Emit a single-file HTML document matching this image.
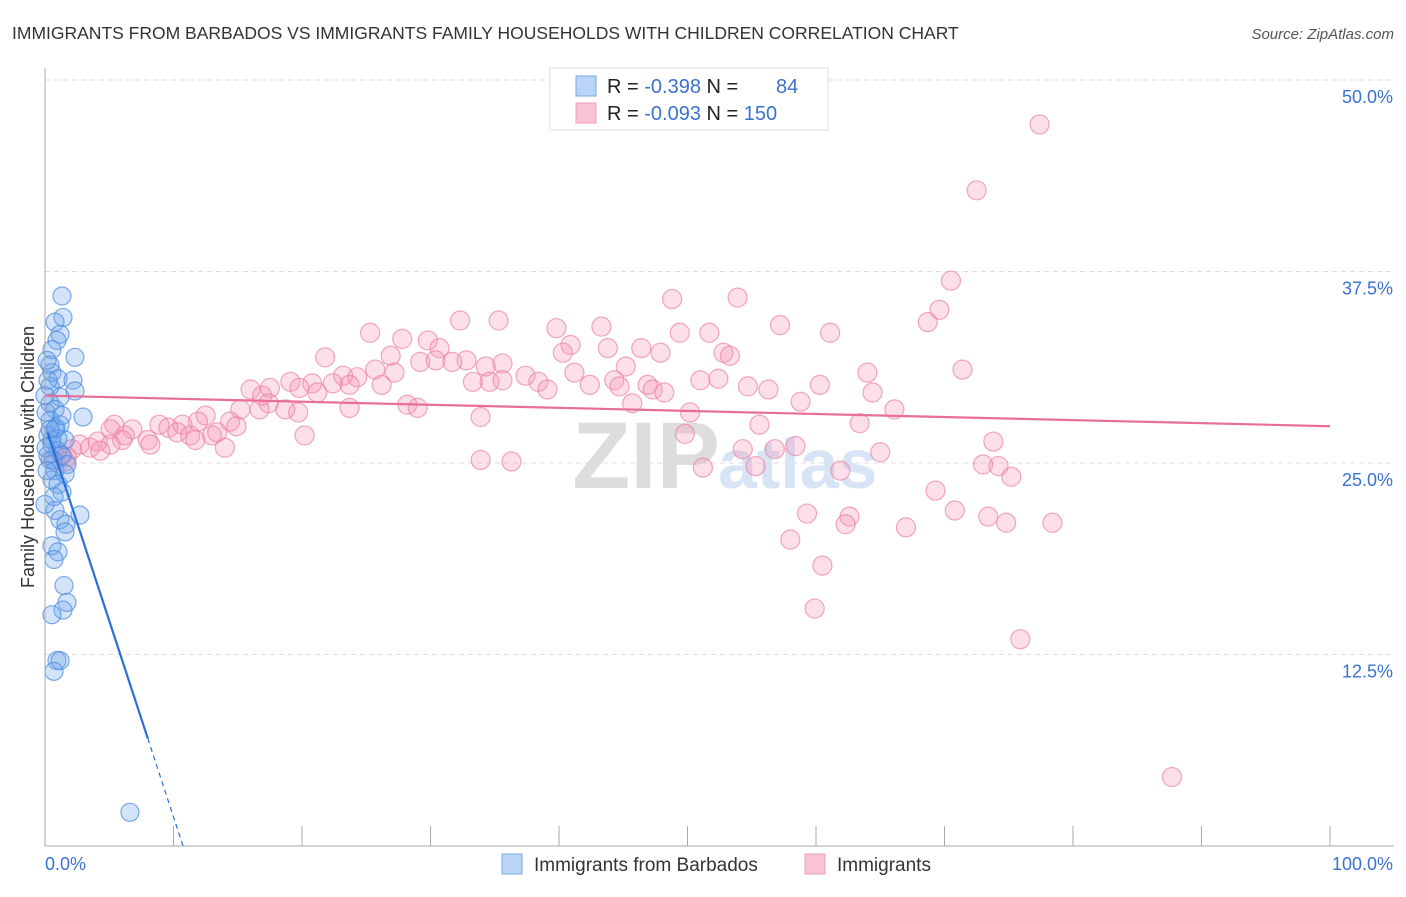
<!DOCTYPE html>
<html><head><meta charset="utf-8"><style>
body{margin:0;background:#fff;font-family:"Liberation Sans",sans-serif;}
svg text{font-family:"Liberation Sans",sans-serif;}
</style></head><body>
<svg id="c" width="1406" height="892" xmlns="http://www.w3.org/2000/svg">
<text x="12" y="39" font-size="17.5" fill="#333">IMMIGRANTS FROM BARBADOS VS IMMIGRANTS FAMILY HOUSEHOLDS WITH CHILDREN CORRELATION CHART</text>
<text x="1394" y="39" font-size="15" fill="#555" text-anchor="end" font-style="italic">Source: ZipAtlas.com</text>
<g id="grid"></g>
<text x="720" y="488" font-size="95" fill="#ddd" text-anchor="end" font-family="Liberation Serif" font-weight="bold">ZIP</text>
<text x="718" y="488" font-size="70" fill="#d6e4f5" font-weight="bold">atlas</text>
<g id="pts"></g>
<g id="lines"></g>
<g id="axes"></g>
<text transform="translate(34,457) rotate(-90)" font-size="18" fill="#333" text-anchor="middle">Family Households with Children</text>
<g>
<rect x="550" y="68" width="278" height="62" fill="#fff" stroke="#ddd"/>
<rect x="576" y="76" width="20" height="20" fill="#b9d4f7" stroke="#7aa8e6"/>
<rect x="576" y="103" width="20" height="20" fill="#f8c3d2" stroke="#ee9fb8"/>
<text x="607" y="93" font-size="20" fill="#222">R = <tspan fill="#3b72d0">-0.398</tspan>   N = <tspan fill="#3b72d0" x="776">84</tspan></text>
<text x="607" y="120" font-size="20" fill="#222">R = <tspan fill="#3b72d0">-0.093</tspan>   N = <tspan fill="#3b72d0">150</tspan></text>
</g>
<g>
<rect x="502" y="854" width="20" height="20" fill="#b9d4f7" stroke="#7aa8e6"/>
<text x="534" y="871" font-size="19" fill="#333">Immigrants from Barbados</text>
<rect x="805" y="854" width="20" height="20" fill="#f8c3d2" stroke="#ee9fb8"/>
<text x="837" y="871" font-size="19" fill="#333">Immigrants</text>
</g>
</svg>
<script>
const yTicks=[12.5,25,37.5,50];
const yTickLabels=["12.5%","25.0%","37.5%","50.0%"];
const xTicks=[0,10,20,30,40,50,60,70,80,90,100];
const blueX=[1.32,1.40,0.78,1.17,0.93,0.54,2.33,0.39,0.54,1.01,2.18,0.39,2.33,1.17,0.39,0.78,2.96,0.39,1.17,0.78,0.23,1.56,0.54,1.01,1.32,0.39,1.71,0.78,1.56,0.54,1.01,1.32,0.70,0.78,2.72,1.17,1.63,1.56,0.54,1.01,0.70,1.48,1.71,1.40,0.54,0.93,1.17,0.70,6.61,0.23,0.54,0.86,0.08,0,0.23,0.16,0.62,1.0,0.08,0.39,1.32,0.16,0];
const blueY=[35.9,34.5,34.2,33.4,33.0,32.4,31.9,31.4,30.9,30.5,30.4,30.0,29.7,29.3,28.9,28.5,28.0,27.8,27.5,27.2,26.8,26.5,26.2,25.8,25.5,25.2,24.9,24.5,24.3,23.9,23.6,23.1,22.8,21.9,21.6,21.3,21.0,20.5,19.6,19.2,18.7,17.0,15.9,15.4,15.1,12.1,12.1,11.4,2.2,25.5,26.5,27.3,28.3,29.4,30.4,31.7,25.2,26.6,26.0,27.2,28.1,24.5,22.3];
const pinkX=[77.4,72.5,70.5,69.6,68.7,71.4,48.8,53.9,57.2,61.1,32.3,35.3,39.8,43.3,49.4,51.7,25.3,27.8,29.8,30.7,32.8,40.9,43.8,46.4,40.3,52.8,53.3,47.9,21.8,26.9,29.2,30.4,31.7,34.3,35.6,45.2,25.7,27.2,64.0,23.2,24.3,37.4,41.2,44.3,51.0,52.4,19.1,20.8,22.4,23.7,26.2,33.3,34.6,35.6,38.4,39.1,42.4,44.7,46.9,47.3,48.2,54.7,56.3,60.3,17.5,16.0,16.9,19.8,21.2,64.4,58.8,17.4,15.2,18.7,19.7,23.7,28.2,29.0,45.7,66.1,16.7,50.2,33.9,12.5,11.9,14.4,14.9,55.6,63.4,8.9,10.7,5.4,5.1,6.8,9.6,10.3,11.3,13.0,13.4,6.2,8.0,20.2,49.8,8.2,4.1,6.0,2.7,3.5,2.1,14.0,58.4,56.8,54.3,73.8,65.0,1.3,1.7,0.8,33.9,36.3,55.3,51.2,73.0,74.2,75.2,61.9,69.3,70.8,73.4,74.8,78.4,59.3,62.6,62.3,67.0,58.0,60.5,59.9,75.9,87.7,5.1,11.7,1.6,4.3];
const pinkY=[47.1,42.8,36.9,35.0,34.2,31.1,35.7,35.8,34.0,33.5,34.3,34.3,33.8,33.9,33.5,33.5,33.5,33.1,33.0,32.5,31.7,32.7,32.5,32.5,32.2,32.2,32.0,32.2,31.9,32.0,31.6,31.7,31.6,31.3,31.5,31.3,31.1,30.9,30.9,30.7,30.6,30.7,30.9,30.4,30.4,30.5,30.3,30.2,30.2,30.1,30.1,30.3,30.3,30.4,30.3,29.8,30.1,30.0,30.1,29.8,29.6,30.0,29.8,30.1,29.9,29.8,29.4,29.9,29.6,29.6,29.0,28.9,28.5,28.5,28.3,28.6,28.8,28.6,28.9,28.5,28.5,28.3,28.0,28.1,27.7,27.7,27.4,27.5,27.6,27.5,27.5,27.5,27.2,27.2,27.3,27.0,26.8,26.8,27.0,26.8,26.5,26.8,26.9,26.2,26.4,26.5,26.2,26.0,25.9,26.0,26.1,25.9,25.9,26.4,25.7,25.5,25.4,25.1,25.2,25.1,24.8,24.7,24.9,24.8,24.1,24.5,23.2,21.9,21.5,21.1,21.1,21.7,21.5,21.0,20.8,20.0,18.3,15.5,13.5,4.5,26.2,26.5,25.1,25.8];
const blueTrend=[27.5,-2.56];
const pinkTrend=[29.4,-0.02];
const NS="http://www.w3.org/2000/svg";
const X=v=>45+v*12.85, Y=v=>846-v*15.32;
function mk(p,t,a){const e=document.createElementNS(NS,t);for(const k in a)e.setAttribute(k,a[k]);p.appendChild(e);return e;}
const grid=document.getElementById('grid');
yTicks.forEach((t,i)=>{
 const l=mk(grid,'line',{x1:45,x2:1394,y1:Y(t),y2:Y(t),stroke:'#ddd','stroke-dasharray':'5,4'});
 
 
 const tx=mk(grid,'text',{x:1393,y:Y(t)+23,'font-size':18,fill:'#3b72d0','text-anchor':'end'});
 tx.textContent=yTickLabels[i];
 
 
});
const axes=document.getElementById('axes');
const ya=mk(axes,'line',{x1:45,x2:45,y1:68,y2:846,stroke:'#aaa'});


const xa=mk(axes,'line',{x1:45,x2:1394,y1:846,y2:846,stroke:'#aaa'});


xTicks.forEach(t=>{const l=mk(axes,'line',{x1:X(t),x2:X(t),y1:826,y2:846,stroke:'#aaa'});
 
 });
const x0=mk(axes,'text',{x:45,y:870,'font-size':18,fill:'#3b72d0'});x0.textContent='0.0%';


const x1=mk(axes,'text',{x:1393,y:870,'font-size':18,fill:'#3b72d0','text-anchor':'end'});x1.textContent='100.0%';


const pts=document.getElementById('pts');
pinkX.forEach((v,i)=>{const c=mk(pts,'circle',{cx:X(v),cy:Y(pinkY[i]),r:9.5,fill:'rgba(244,150,180,0.3)',stroke:'rgba(236,130,165,0.7)','stroke-width':1.2});
 
 });
blueX.forEach((v,i)=>{const c=mk(pts,'circle',{cx:X(v),cy:Y(blueY[i]),r:9,fill:'rgba(110,165,235,0.3)',stroke:'rgba(80,140,225,0.75)','stroke-width':1.2});
 
 });
const lines=document.getElementById('lines');
const pl=mk(lines,'line',{x1:X(0),y1:Y(pinkTrend[0]),x2:X(100),y2:Y(pinkTrend[0]+pinkTrend[1]*100),stroke:'#e86d98','stroke-width':2.2});


const bEnd=8, bZero=-blueTrend[0]/blueTrend[1];
const bl=mk(lines,'line',{x1:X(0.2),y1:Y(blueTrend[0]+blueTrend[1]*0.2),x2:X(bEnd),y2:Y(blueTrend[0]+blueTrend[1]*bEnd),stroke:'#2a6fd6','stroke-width':2.2});


const bd=mk(lines,'line',{x1:X(bEnd),y1:Y(blueTrend[0]+blueTrend[1]*bEnd),x2:X(bZero),y2:Y(0),stroke:'#2a6fd6','stroke-width':1.2,'stroke-dasharray':'5,4'});


</script>
</body></html>
